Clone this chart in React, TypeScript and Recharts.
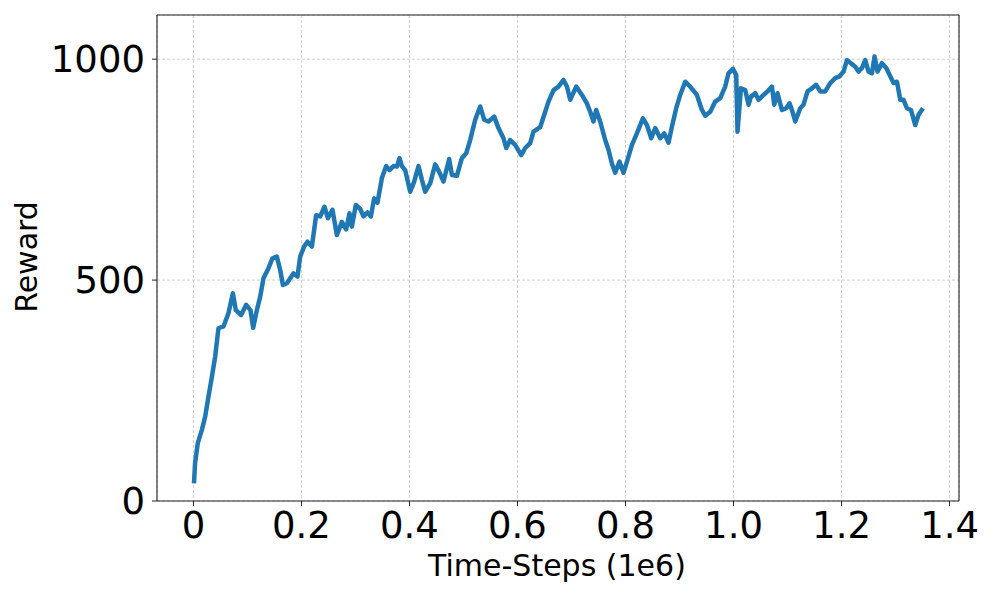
import { LineChart, Line, XAxis, YAxis, CartesianGrid, ReferenceLine } from 'recharts';

// Training curve, time-steps in units of 1e6
const steps = [
  0.001, 0.003, 0.008, 0.0156, 0.0217, 0.0278, 0.0341, 0.0402, 0.0463, 0.0556,
  0.0648, 0.073, 0.0785, 0.0883, 0.0976, 0.1056, 0.1106, 0.1174, 0.1235, 0.1296,
  0.1389, 0.1463, 0.1544, 0.1606, 0.1656, 0.173, 0.1791, 0.1852, 0.1926, 0.1976,
  0.205, 0.2111, 0.2193, 0.2272, 0.2346, 0.2426, 0.2489, 0.2574, 0.2656, 0.2748,
  0.2828, 0.2889, 0.2933, 0.3007, 0.3087, 0.3148, 0.3222, 0.3285, 0.3346, 0.3407,
  0.3489, 0.3569, 0.363, 0.3704, 0.3767, 0.3815, 0.3859, 0.392, 0.4013, 0.4087,
  0.4167, 0.423, 0.4291, 0.4383, 0.4476, 0.455, 0.463, 0.4735, 0.4785, 0.4878,
  0.497, 0.505, 0.5124, 0.5217, 0.5309, 0.5383, 0.5463, 0.5569, 0.5648, 0.5741,
  0.5791, 0.5865, 0.5957, 0.6069, 0.6143, 0.6235, 0.6296, 0.642, 0.6513, 0.6574,
  0.6667, 0.6759, 0.6852, 0.6915, 0.6976, 0.7087, 0.7193, 0.7285, 0.7346, 0.7407,
  0.7457, 0.7531, 0.7624, 0.7685, 0.7748, 0.7809, 0.7889, 0.7963, 0.8037, 0.8119,
  0.8211, 0.8322, 0.8396, 0.8476, 0.855, 0.8643, 0.8717, 0.8796, 0.8859, 0.8939,
  0.9013, 0.9106, 0.9198, 0.9322, 0.9415, 0.9476, 0.9569, 0.9661, 0.9754, 0.9846,
  0.9907, 0.9989, 1.005, 1.0074, 1.0137, 1.0217, 1.0278, 1.0322, 1.0402, 1.0463,
  1.0556, 1.063, 1.0711, 1.0754, 1.0815, 1.0896, 1.0976, 1.1037, 1.1081, 1.1143,
  1.1235, 1.1296, 1.137, 1.1452, 1.1531, 1.1606, 1.1698, 1.1791, 1.1883, 1.1963,
  1.2037, 1.21, 1.2174, 1.2254, 1.2315, 1.2378, 1.2439, 1.25, 1.2563, 1.2611,
  1.2667, 1.2748, 1.2828, 1.2889, 1.2963, 1.3026, 1.3087, 1.3148, 1.3211, 1.3285,
  1.3365, 1.3426, 1.3507,
];

const rewards = [
  40, 86, 131, 161, 191, 236, 281, 327, 391, 395,
  425, 470, 432, 421, 444, 432, 392, 432, 462, 504,
  527, 549, 553, 523, 489, 493, 504, 515, 508, 553,
  576, 587, 576, 647, 644, 666, 640, 659, 602, 632,
  615, 651, 621, 670, 661, 644, 653, 644, 685, 675,
  731, 758, 749, 758, 757, 776, 758, 749, 700, 723,
  758, 727, 700, 719, 762, 745, 723, 774, 738, 736,
  776, 787, 817, 863, 893, 863, 859, 870, 844, 821,
  799, 817, 806, 783, 799, 810, 836, 846, 881, 904,
  930, 938, 953, 938, 908, 938, 919, 900, 881, 859,
  885, 859, 817, 795, 764, 743, 768, 743, 772, 806,
  832, 866, 851, 821, 844, 821, 832, 811, 847, 889,
  919, 949, 938, 919, 885, 872, 881, 904, 912, 938,
  968, 978, 964, 836, 934, 930, 897, 915, 923, 908,
  919, 927, 938, 897, 923, 885, 889, 900, 885, 859,
  889, 897, 927, 934, 942, 927, 927, 946, 957, 961,
  972, 998, 991, 983, 972, 980, 998, 972, 968, 1006,
  972, 991, 980, 965, 946, 949, 908, 908, 889, 885,
  851, 874, 889,
];

const xTicks = [0, 0.2, 0.4, 0.6, 0.8, 1.0, 1.2, 1.4];
const xTickLabels = ['0', '0.2', '0.4', '0.6', '0.8', '1.0', '1.2', '1.4'];
const yTicks = [0, 500, 1000];
const xDomain = [-0.0675, 1.4175];
const yDomain = [0, 1100];

const font = 'DejaVu Sans';
const tickStyle = { fill: '#000', fontSize: 37, fontFamily: font };
const frame = { stroke: '#222', strokeWidth: 1.1 };

const data = steps.map((s, i) => ({ step: s, reward: rewards[i] }));

export default function App() {
  return (
    <div style={{ position: 'absolute', left: 0, top: 0, width: 997, height: 598, background: '#fff' }}>
      <LineChart
        width={997}
        height={598}
        data={data}
        margin={{ top: 15, right: 38, left: 0, bottom: 0 }}
      >
        <CartesianGrid stroke="#c4c4c4" strokeDasharray="3 2" strokeWidth={0.8} />
        <XAxis
          dataKey="step"
          type="number"
          domain={xDomain}
          ticks={xTicks}
          tickFormatter={(v: number) => xTickLabels[xTicks.indexOf(v)] ?? String(v)}
          tick={tickStyle}
          tickSize={5}
          tickMargin={6}
          tickLine={{ stroke: '#222' }}
          axisLine={frame}
          height={97}
          interval={0}
          label={{
            content: () => (
              <text x={557} y={576} textAnchor="middle" fontSize={30} fontFamily={font} fill="#000">
                Time-Steps (1e6)
              </text>
            ),
          }}
        />
        <YAxis
          type="number"
          domain={yDomain}
          ticks={yTicks}
          tick={tickStyle}
          tickSize={5}
          tickMargin={7}
          tickLine={{ stroke: '#222' }}
          axisLine={frame}
          width={157}
          interval={0}
          label={{
            content: () => (
              <text
                x={37}
                y={257}
                textAnchor="middle"
                fontSize={30}
                fontFamily={font}
                fill="#000"
                transform="rotate(-90 37 257)"
              >
                Reward
              </text>
            ),
          }}
        />
        {/* top and right spines */}
        <ReferenceLine y={yDomain[1]} stroke="#222" strokeWidth={1.1} />
        <ReferenceLine x={xDomain[1]} stroke="#222" strokeWidth={1.1} />
        <Line
          type="linear"
          dataKey="reward"
          stroke="#1f77b4"
          strokeWidth={4.5}
          strokeLinejoin="round"
          dot={false}
          isAnimationActive={false}
        />
      </LineChart>
    </div>
  );
}
